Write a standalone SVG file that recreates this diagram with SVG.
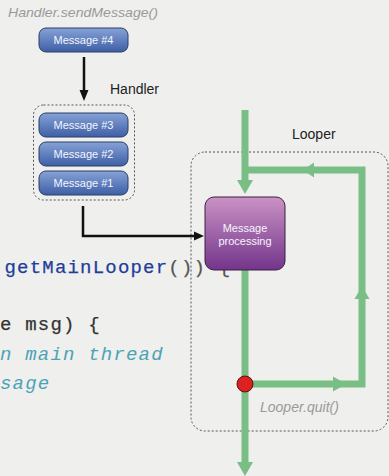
<svg xmlns="http://www.w3.org/2000/svg" width="389" height="476" viewBox="0 0 389 476">
<defs>
<linearGradient id="gBlue" x1="0" y1="0" x2="0" y2="1">
<stop offset="0" stop-color="#86a2d6"/>
<stop offset="1" stop-color="#3e5fa6"/>
</linearGradient>
<linearGradient id="gPurple" x1="0" y1="0" x2="0" y2="1">
<stop offset="0" stop-color="#cb92c5"/>
<stop offset="1" stop-color="#73358a"/>
</linearGradient>
<style>
.msg{fill:url(#gBlue);stroke:#2b3e66;stroke-width:1}
.mt{font-family:"Liberation Sans",Arial,sans-serif;font-size:11px;fill:#f4f6fb;text-anchor:middle}
.lbl{font-family:"Liberation Sans",Arial,sans-serif;font-size:14px;fill:#222}
.it{font-family:"Liberation Sans",Arial,sans-serif;font-style:italic;fill:#9a9a9a}
.dash{fill:none;stroke:#555;stroke-width:1;stroke-dasharray:2,2}
.code{font-family:"Liberation Mono","Courier New",monospace;font-size:19px;letter-spacing:1.2px}
.g{fill:none;stroke:#79bf85;stroke-width:7}
.ga{fill:#79bf85}
.k{fill:none;stroke:#111;stroke-width:2.5}
</style>
</defs>
<rect width="389" height="476" fill="#efefed"/>
<g id="code">
<text class="code" x="4.5" y="273" fill="#1f3e9c" stroke="#1f3e9c" stroke-width="0.25">getMainLooper<tspan fill="#555" stroke="#555">()) {</tspan></text>
<text class="code" x="0" y="330" fill="#333" stroke="#333" stroke-width="0.25">e msg) {</text>
<text class="code" x="0" y="360" fill="#4aa3b6" font-style="italic">n main thread</text>
<text class="code" x="0" y="389" fill="#4aa3b6" font-style="italic">sage</text>
</g>
<text class="it" x="8" y="17" font-size="13.5" textLength="150" lengthAdjust="spacingAndGlyphs">Handler.sendMessage()</text>
<g id="msg4">
<rect class="msg" x="39" y="28" width="89" height="24" rx="7"/>
<text class="mt" x="83.5" y="44">Message #4</text>
</g>
<text class="lbl" x="110" y="94">Handler</text>
<g id="handlerQueue">
<rect class="dash" x="33.5" y="105" width="101" height="95" rx="10"/>
<rect class="msg" x="39" y="113" width="89" height="24" rx="7"/>
<text class="mt" x="83.5" y="129">Message #3</text>
<rect class="msg" x="39" y="142" width="89" height="24" rx="7"/>
<text class="mt" x="83.5" y="158">Message #2</text>
<rect class="msg" x="39" y="171" width="89" height="24" rx="7"/>
<text class="mt" x="83.5" y="187">Message #1</text>
</g>
<g id="looper">
<rect class="dash" x="191" y="152" width="197" height="279" rx="14"/>
<text class="lbl" x="292" y="139">Looper</text>
<text class="it" x="260" y="412" font-size="14">Looper.quit()</text>
</g>
<g id="connectors">
<path class="k" d="M84 57 V92"/>
<polygon points="79.5,90 88.5,90 84,101" fill="#111"/>
<path class="k" d="M83 206 V236 H195"/>
<polygon points="194,231.5 194,240.5 204,236" fill="#111"/>
<path class="g" d="M245 110 V182"/>
<polygon class="ga" points="237,180 253,180 245,194"/>
<path class="g" d="M245 170 H362 V384 H245"/>
<polygon class="ga" points="314,162.5 314,177.5 303,170"/>
<polygon class="ga" points="354.5,299 369.5,299 362,286"/>
<polygon class="ga" points="333,376.5 333,391.5 346,384"/>
<path class="g" d="M245 268 V464"/>
<polygon class="ga" points="237,462 253,462 245,476"/>
</g>
<g id="processing">
<rect x="205" y="197" width="80" height="73" rx="9" fill="url(#gPurple)" stroke="#3b2142" stroke-width="1"/>
<text class="mt" x="245" y="232" fill="#f3e8f3">Message</text>
<text class="mt" x="245" y="245" fill="#f3e8f3">processing</text>
</g>
<g id="quitPoint">
<circle cx="245" cy="384" r="8" fill="#dd2121" stroke="#5a1212" stroke-width="1"/>
</g>
</svg>
